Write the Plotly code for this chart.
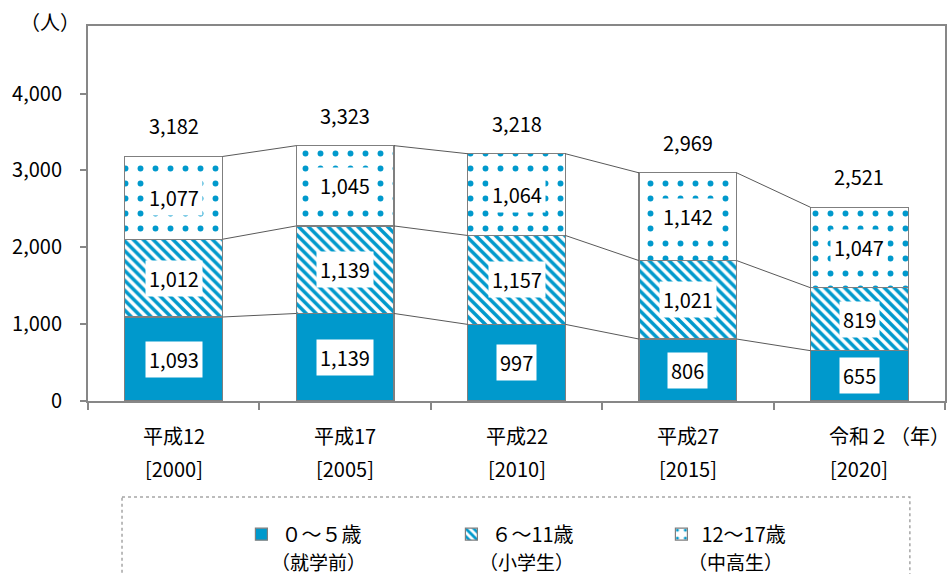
import plotly.graph_objects as go

categories = ["平成12", "平成17", "平成22", "平成27", "令和２"]
years = ["[2000]", "[2005]", "[2010]", "[2015]", "[2020]"]
preschool = [1093, 1139, 997, 806, 655]
elementary = [1012, 1139, 1157, 1021, 819]
secondary = [1077, 1045, 1064, 1142, 1047]
totals = [3182, 3323, 3218, 2969, 2521]
series_names = ["０～５歳", "６～11歳", "12～17歳"]
series_sub = ["（就学前）", "（小学生）", "（中高生）"]
yticks = [0, 1000, 2000, 3000, 4000]

BLUE = "#0099CC"
AXIS = "#878787"
FONT = "Noto Sans CJK JP, Noto Sans, sans-serif"
BW = 0.57

fig = go.Figure()
series = [preschool, elementary, secondary]
patterns = [
    dict(shape=""),
    dict(shape="\\", fgcolor=BLUE, bgcolor="white", size=7, solidity=0.5, fillmode="replace"),
    dict(shape=".", fgcolor=BLUE, bgcolor="white", size=15, solidity=0.12, fillmode="replace"),
]
for vals, name, pat in zip(series, series_names, patterns):
    fig.add_bar(
        x=categories, y=vals, name=name, width=BW,
        marker=dict(color=BLUE if pat["shape"] == "" else "white",
                    line=dict(color="#7f7f7f", width=1.2),
                    pattern=pat),
        hoverinfo="skip",
    )

# cumulative levels
cum1 = preschool
cum2 = [a + b for a, b in zip(preschool, elementary)]
cum3 = [a + b + c for a, b, c in zip(preschool, elementary, secondary)]

shapes = []
for level in (cum1, cum2, cum3):
    for i in range(len(categories) - 1):
        shapes.append(dict(type="line", xref="x", yref="y",
                           x0=i + BW / 2, x1=i + 1 - BW / 2,
                           y0=level[i], y1=level[i + 1],
                           line=dict(color="#595959", width=1)))

# legend dotted box
shapes.append(dict(type="rect", xref="paper", yref="paper",
                   x0=0.0397, x1=0.959, y0=-0.256, y1=-0.52,
                   line=dict(color="#a6a6a6", width=1.5, dash="dot"),
                   fillcolor="rgba(0,0,0,0)"))

annotations = []
bases = [[0] * 5, cum1, cum2]
for vals, base in zip(series, bases):
    for i, (v, b) in enumerate(zip(vals, base)):
        annotations.append(dict(x=i, y=b + v / 2, xref="x", yref="y",
                                text=f"{v:,}", showarrow=False,
                                bgcolor="white", borderpad=3,
                                font=dict(size=20, color="black", family=FONT)))
for i, t in enumerate(totals):
    annotations.append(dict(x=i, y=t, xref="x", yref="y", text=f"{t:,}",
                            showarrow=False, yanchor="bottom", yshift=14,
                            font=dict(size=20, color="black", family=FONT)))
for i, (c, yr) in enumerate(zip(categories, years)):
    annotations.append(dict(x=i, y=-0.093, xref="x", yref="paper", text=c,
                            showarrow=False, xanchor="center", yanchor="middle",
                            font=dict(size=20, color="black", family=FONT)))
    annotations.append(dict(x=i, y=-0.179, xref="x", yref="paper", text=yr,
                            showarrow=False, xanchor="center", yanchor="middle",
                            font=dict(size=20, color="black", family=FONT)))
annotations.append(dict(x=0.971, y=-0.093, xref="paper", yref="paper", text="（年）",
                        showarrow=False, xanchor="center", yanchor="middle",
                        font=dict(size=20, color="black", family=FONT)))
annotations.append(dict(x=-0.044, y=1.0107, xref="paper", yref="paper", text="（人）",
                        showarrow=False, xanchor="center", yanchor="middle",
                        font=dict(size=20, color="black", family=FONT)))
# second lines of the legend entries
for sub, xp in zip(series_sub, [0.2124, 0.455, 0.699]):
    annotations.append(dict(x=xp, y=-0.4293, xref="paper", yref="paper", text=sub,
                            showarrow=False, xanchor="left", yanchor="middle",
                            borderpad=0,
                            font=dict(size=19, color="black", family=FONT)))

fig.update_layout(
    width=950, height=574,
    margin=dict(l=88, r=5, t=26, b=173, autoexpand=False),
    barmode="stack",
    plot_bgcolor="white", paper_bgcolor="white",
    font=dict(family=FONT, size=20, color="black"),
    shapes=shapes, annotations=annotations,
    legend=dict(orientation="h", x=0.179, y=-0.303, xanchor="left", yanchor="top",
                entrywidth=165, entrywidthmode="pixels", valign="middle",
                font=dict(size=20, family=FONT, color="black"),
                bgcolor="rgba(0,0,0,0)", traceorder="normal"),
    xaxis=dict(type="category", showline=True, linecolor=AXIS, linewidth=2, mirror=True,
               ticks="outside", tickson="boundaries", ticklen=7, tickwidth=2, tickcolor=AXIS,
               showticklabels=False, showgrid=False, range=[-0.5, 4.5]),
    yaxis=dict(range=[0, 4880], tickvals=yticks, tickformat=",", showline=True,
               linecolor=AXIS, linewidth=2, mirror=True, ticks="outside", ticklen=6,
               tickwidth=2, tickcolor=AXIS, showgrid=False, zeroline=False,
               ticklabelstandoff=14, tickfont=dict(size=20, family=FONT, color="black")),
)

fig.write_html("out.html", config={"displayModeBar": False},
               post_script="document.body.style.margin='0';document.body.style.overflow='hidden';")
